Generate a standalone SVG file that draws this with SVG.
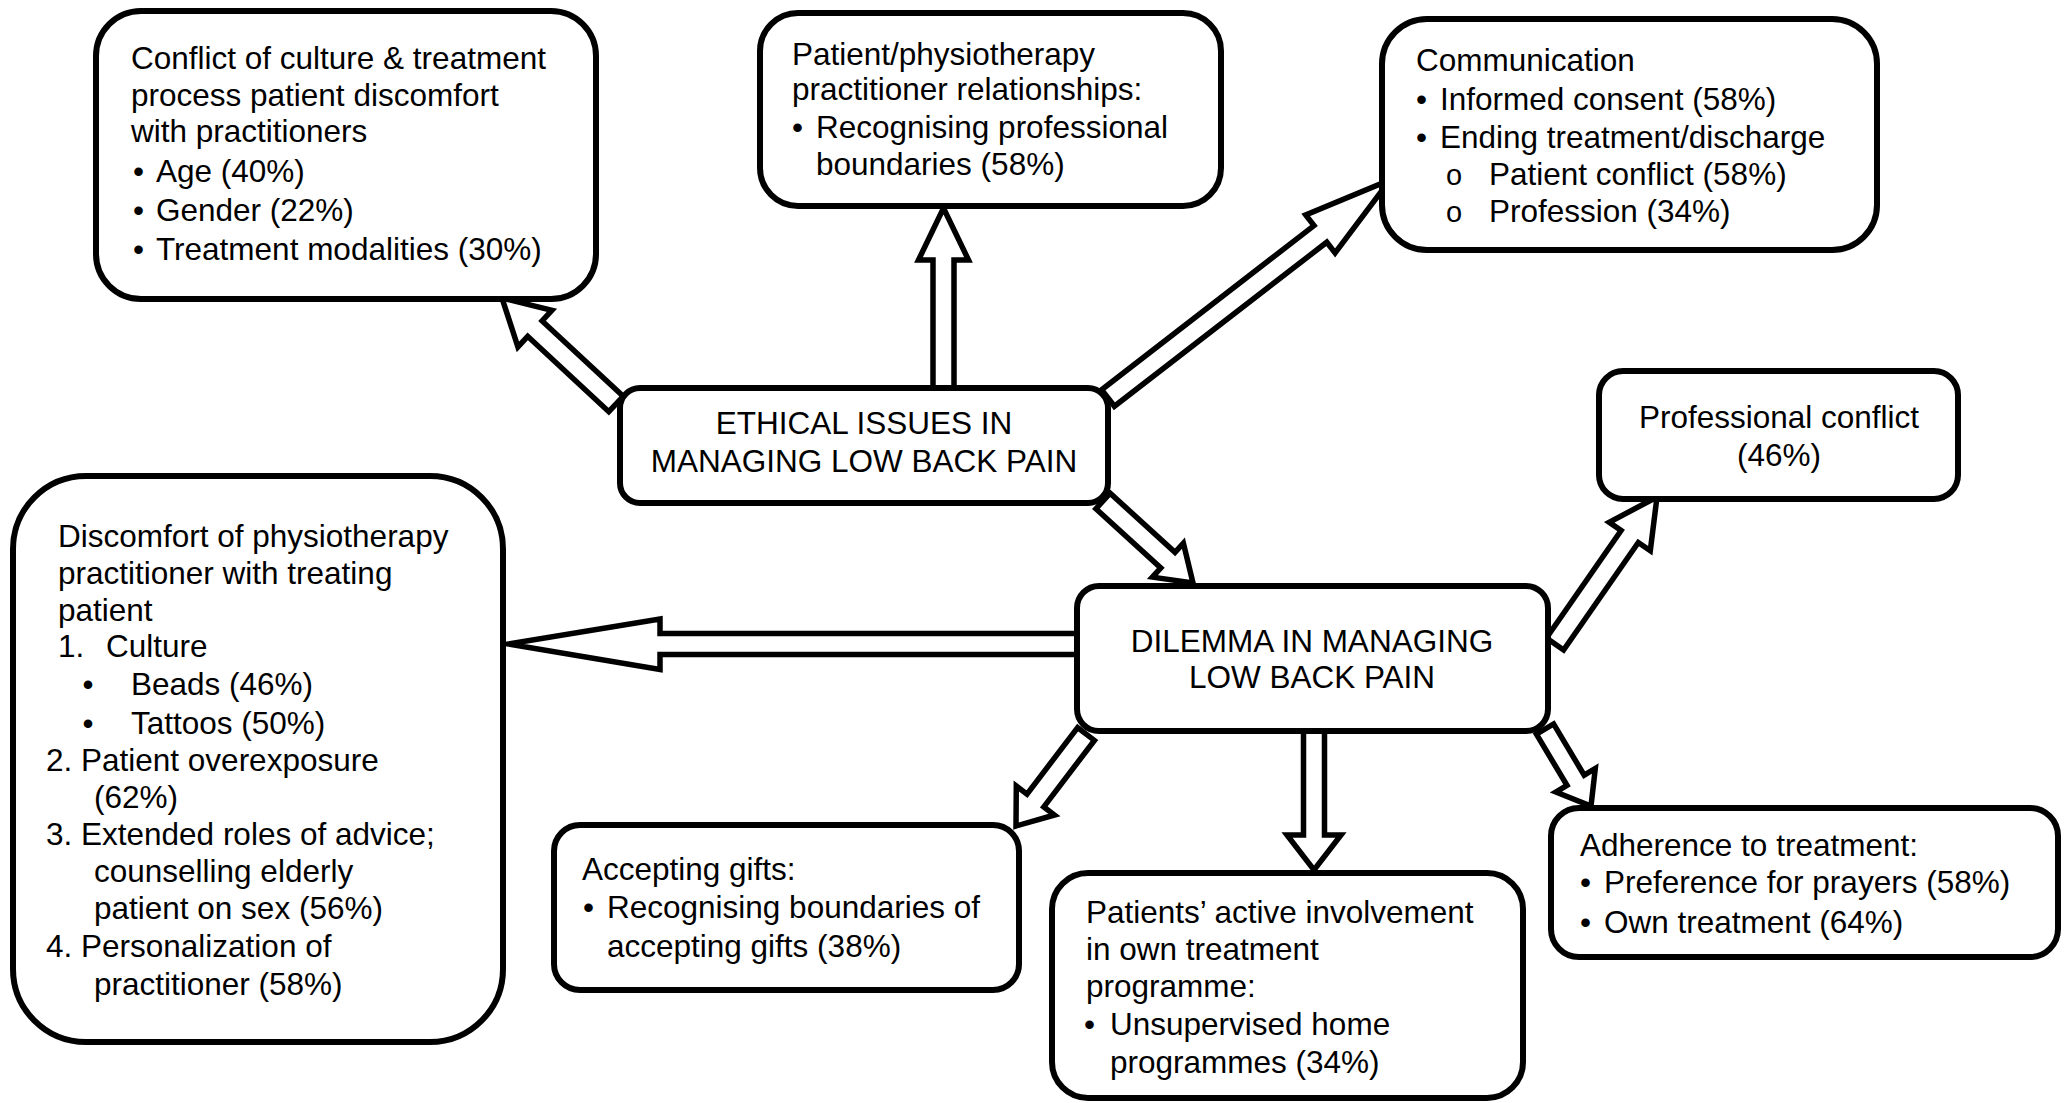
<svg xmlns="http://www.w3.org/2000/svg" width="2066" height="1103" viewBox="0 0 2066 1103">
<style>
.box{fill:#fff;stroke:#000;stroke-width:6}
.arr{fill:#fff;stroke:#000;stroke-width:5.5;stroke-linejoin:miter;stroke-miterlimit:10}
text{font-family:"Liberation Sans",Arial,sans-serif;font-size:31.5px;fill:#000}
.c{text-anchor:middle}
.sub{font-size:29px}
</style>
<rect width="2066" height="1103" fill="#fff"/>
<g id="connectors">
<polygon class="arr" points="623.2,396.3 542.1,320.9 551.9,310.3 502,298 517.9,346.9 527.7,336.3 608.8,411.7"/>
<polygon class="arr" points="933,392 933,260 918.5,260 943.5,208 968.5,260 954,260 954,392"/>
<polygon class="arr" points="1114.4,406.3 1326.8,242.2 1335.1,252.9 1390,180 1305.7,214.9 1314,225.6 1101.6,389.7"/>
<polygon class="arr" points="1095.9,508.8 1160.8,567.9 1152.4,577.1 1193,583 1183.4,543.1 1175,552.3 1110.1,493.2"/>
<polygon class="arr" points="1080,633.5 660,633.5 660,619 508,644 660,669.5 660,654.5 1080,654.5"/>
<polygon class="arr" points="1563.6,650 1638.3,542.5 1650.3,550.7 1657,497 1609.2,522.3 1621.1,530.5 1546.4,638"/>
<polygon class="arr" points="1077.6,727.6 1027,794.1 1016.3,786 1016,826 1054.5,815 1043.8,806.9 1094.4,740.4"/>
<polygon class="arr" points="1303.5,728 1303.5,835 1287,835 1314,870 1341,835 1324.5,835 1324.5,728"/>
<polygon class="arr" points="1536.4,734.1 1567,785.4 1555.9,792.1 1591,806 1595.3,768.5 1584.2,775.2 1553.6,723.9"/>
</g>
<g id="node-conflict">
<rect class="box" x="96" y="11" width="500" height="288" rx="45"/>
<text x="131" y="69">Conflict of culture &amp; treatment</text>
<text x="131" y="106">process patient discomfort</text>
<text x="131" y="142">with practitioners</text>
<text y="182"><tspan x="133">•</tspan><tspan x="156">Age (40%)</tspan></text>
<text y="221"><tspan x="133">•</tspan><tspan x="156">Gender (22%)</tspan></text>
<text y="260"><tspan x="133">•</tspan><tspan x="156">Treatment modalities (30%)</tspan></text>
</g>
<g id="node-relationships">
<rect class="box" x="760" y="13" width="461" height="193" rx="38"/>
<text x="792" y="65">Patient/physiotherapy</text>
<text x="792" y="100">practitioner relationships:</text>
<text y="138"><tspan x="792">•</tspan><tspan x="816">Recognising professional</tspan></text>
<text x="816" y="175">boundaries (58%)</text>
</g>
<g id="node-communication">
<rect class="box" x="1382" y="19" width="495" height="231" rx="45"/>
<text x="1416" y="71">Communication</text>
<text y="110"><tspan x="1416">•</tspan><tspan x="1440">Informed consent (58%)</tspan></text>
<text y="148"><tspan x="1416">•</tspan><tspan x="1440">Ending treatment/discharge</tspan></text>
<text y="185"><tspan class="sub" x="1446">o</tspan><tspan x="1489">Patient conflict (58%)</tspan></text>
<text y="222"><tspan class="sub" x="1446">o</tspan><tspan x="1489">Profession (34%)</tspan></text>
</g>
<g id="node-ethical">
<rect class="box" x="620" y="388" width="488" height="115" rx="20"/>
<text class="c" x="864" y="434">ETHICAL ISSUES IN</text>
<text class="c" x="864" y="472">MANAGING LOW BACK PAIN</text>
</g>
<g id="node-professional">
<rect class="box" x="1599" y="371" width="359" height="128" rx="24"/>
<text class="c" x="1779" y="428">Professional conflict</text>
<text class="c" x="1779" y="466">(46%)</text>
</g>
<g id="node-dilemma">
<rect class="box" x="1077" y="586" width="471" height="145" rx="22"/>
<text class="c" x="1312" y="652">DILEMMA IN MANAGING</text>
<text class="c" x="1312" y="688">LOW BACK PAIN</text>
</g>
<g id="node-discomfort">
<rect class="box" x="13" y="476" width="490" height="566" rx="73"/>
<text x="58" y="547">Discomfort of physiotherapy</text>
<text x="58" y="584">practitioner with treating</text>
<text x="58" y="621">patient</text>
<text y="657"><tspan x="58">1.</tspan><tspan x="106">Culture</tspan></text>
<text y="695"><tspan x="82.5">•</tspan><tspan x="131">Beads (46%)</tspan></text>
<text y="734"><tspan x="82.5">•</tspan><tspan x="131">Tattoos (50%)</tspan></text>
<text x="46" y="771">2. Patient overexposure</text>
<text x="94" y="808">(62%)</text>
<text x="46" y="845">3. Extended roles of advice;</text>
<text x="94" y="882">counselling elderly</text>
<text x="94" y="919">patient on sex (56%)</text>
<text x="46" y="957">4. Personalization of</text>
<text x="94" y="995">practitioner (58%)</text>
</g>
<g id="node-gifts">
<rect class="box" x="554" y="825" width="465" height="165" rx="26"/>
<text x="582" y="880">Accepting gifts:</text>
<text y="918"><tspan x="583">•</tspan><tspan x="607">Recognising boundaries of</tspan></text>
<text x="607" y="957">accepting gifts (38%)</text>
</g>
<g id="node-involvement">
<rect class="box" x="1052" y="873" width="471" height="225" rx="36"/>
<text x="1086" y="923">Patients’ active involvement</text>
<text x="1086" y="960">in own treatment</text>
<text x="1086" y="997">programme:</text>
<text y="1035"><tspan x="1084">•</tspan><tspan x="1110">Unsupervised home</tspan></text>
<text x="1110" y="1073">programmes (34%)</text>
</g>
<g id="node-adherence">
<rect class="box" x="1551" y="808" width="507" height="149" rx="28"/>
<text x="1580" y="856">Adherence to treatment:</text>
<text y="893"><tspan x="1580">•</tspan><tspan x="1604">Preference for prayers (58%)</tspan></text>
<text y="933"><tspan x="1580">•</tspan><tspan x="1604">Own treatment (64%)</tspan></text>
</g>
</svg>
